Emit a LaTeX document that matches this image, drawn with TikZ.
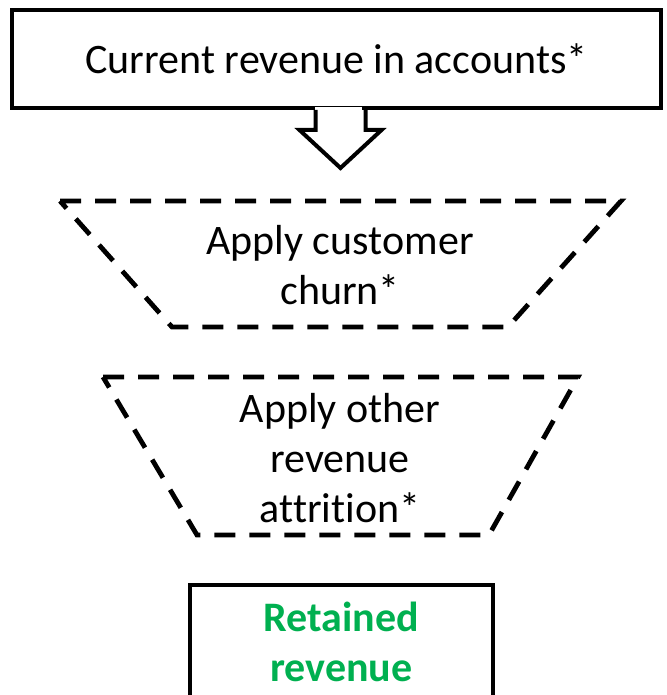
\documentclass[tikz,border=0pt]{standalone}
\usepackage{fontspec}
\setmainfont{Carlito}[Ligatures=NoCommon]
\usetikzlibrary{calc}
\definecolor{keepgreen}{HTML}{00B050}
\begin{document}
\begin{tikzpicture}[x=1pt,y=-1pt,
  bigtext/.style={font=\fontsize{42}{50}\selectfont, align=center},
  solidbox/.style={draw=black, line width=4pt, fill=white, inner sep=0pt},
  funnel/.style={draw=black, line width=4.8pt, dash pattern=on 21pt off 14pt},
  outline/.style={draw=black, line width=4pt, line join=miter}]
\useasboundingbox (0,0) rectangle (666,695);
\clip (0,0) rectangle (666,695);

% starting revenue
\node[solidbox, bigtext, minimum width=649pt, minimum height=98pt] (current) at (336.5,59)
  {Current revenue in accounts*};

% block arrow hanging from the box
\fill[white] ([xshift=-21.5pt,yshift=3pt]current.south) rectangle ([xshift=25.5pt,yshift=-6pt]current.south);
\draw[outline] ([xshift=-21pt]current.south) -- ++(0,20) -- ++(-16,0) -- ++(41,38)
  -- ++(41,-38) -- ++(-16,0) -- ++(0,-20);

% first funnel stage
\draw[funnel] (60,201) -- (621,201) -- (508,327) -- (172,327) -- cycle;
\node[bigtext] (churn) at (340,265) {Apply customer\\churn*};

% second funnel stage
\draw[funnel] (103,377) -- (578,377) -- (489,535) -- (197,535) -- cycle;
\node[bigtext] (attrition) at (340,458) {Apply other\\revenue\\attrition*};

% result
\node[solidbox, bigtext, font=\fontsize{42}{50}\selectfont\bfseries, text=keepgreen,
  minimum width=303pt, minimum height=114pt, anchor=north] (retained) at (341.5,583)
  {Retained\\revenue};
\end{tikzpicture}
\end{document}
